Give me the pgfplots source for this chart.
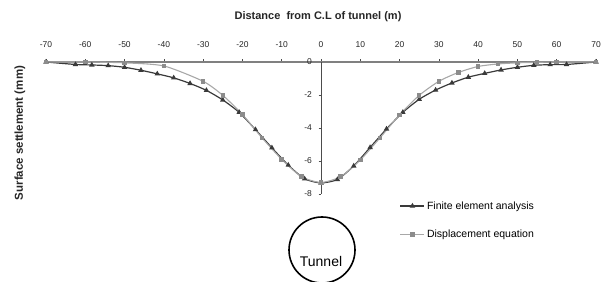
\documentclass[border=0pt]{standalone}
\usepackage{fontspec}
\setmainfont{Liberation Sans}
\usepackage{pgfplots}
\pgfplotsset{compat=1.18}
\definecolor{fecol}{HTML}{3A3A3A}
\definecolor{decol}{HTML}{A8A8A8}
\definecolor{demark}{HTML}{8C8C8C}
\begin{document}
\begin{tikzpicture}
\begin{axis}[
  scale only axis, width=550pt, height=132pt,
  xmin=-70, xmax=70, ymin=-8, ymax=0,
  axis x line=top, axis y line=center,
  axis line style={-},
  x axis line style={draw=black!50, line width=1.4pt},
  y axis line style={draw=black!70, line width=0.8pt},
  xtick={-70,-60,...,70}, ytick={-8,-6,-4,-2,0},
  hide obscured x ticks=false, hide obscured y ticks=false,
  tick align=outside, major tick length=2.5pt,
  tick style={black!70, line width=0.6pt},
  /pgf/number format/assume math mode=true,
  tick label style={font=\fontsize{8.5}{9}\selectfont, text=black!85},
  xticklabel style={yshift=8pt},
  yticklabel style={xshift=-3pt},
  clip=false,
  legend style={draw=none, fill=none, at={(0.643,-0.04)}, anchor=north west,
    font=\fontsize{10.5}{12}\selectfont, row sep=15.5pt, inner sep=0pt},
  legend cell align=left,
  legend image code/.code={\draw[mark repeat=2,mark phase=2] plot coordinates {(0pt,0pt)(12pt,0pt)(24pt,0pt)};},
]
\addplot[color=fecol, line width=1.2pt, smooth, tension=0.4, mark=triangle*, mark size=2pt, mark options={fecol, solid}]
coordinates {
(-70,0) (-62.5,-0.15) (-58.33,-0.18) (-54.17,-0.22) (-50,-0.32) (-45.83,-0.5) (-41.67,-0.72) (-37.5,-0.96) (-33.33,-1.3) (-29.17,-1.72) (-25,-2.3) (-20.83,-3.05) (-16.67,-4.1) (-12.5,-5.2) (-8.33,-6.25) (-4.17,-7.08) (0,-7.33)
(4.17,-7.12) (8.33,-6.3) (12.5,-5.18) (16.67,-4.06) (20.83,-3.05) (25,-2.26) (29.17,-1.7) (33.33,-1.27) (37.5,-0.92) (41.67,-0.69) (45.83,-0.48) (50,-0.32) (54.17,-0.2) (58.33,-0.16) (62.5,-0.15) (70,0)
};
\addlegendentry{Finite element analysis}
\addplot[color=decol, line width=1.1pt, smooth, tension=0.4, mark=square*, mark size=1.7pt, mark options={demark, solid}]
coordinates {
(-70,0) (-60,0) (-50,-0.05) (-40,-0.24) (-30,-1.17) (-25,-2.02) (-20,-3.18) (-15,-4.6) (-10,-5.9) (-5,-6.95) (0,-7.3)
(5,-6.95) (10,-5.94) (15,-4.6) (20,-3.2) (25,-2.02) (30,-1.17) (35,-0.63) (40,-0.27) (45,-0.12) (50,-0.05) (55,-0.02) (60,0) (70,0)
};
\addlegendentry{Displacement equation}
\coordinate (SW) at (rel axis cs:0,0);
\coordinate (NE) at (rel axis cs:1,1);
\end{axis}
\node[font=\bfseries\fontsize{11}{12}\selectfont, text=black!85] at ([shift={(272pt,177pt)}]SW) {Distance\ \ from C.L of tunnel (m)};
\node[rotate=90, font=\bfseries\fontsize{11.5}{12}\selectfont, text=black!85] at ([shift={(-26pt,61pt)}]SW) {Surface settlement (mm)};
\draw[line width=1.6pt, black] ([shift={(276pt,-56pt)}]SW) circle[radius=33pt];
\node[font=\fontsize{14}{15}\selectfont] at ([shift={(275pt,-67pt)}]SW) {Tunnel};
\pgfresetboundingbox
\path ([shift={(-46pt,-88pt)}]SW) rectangle ([shift={(12pt,62pt)}]NE);
\end{tikzpicture}
\end{document}
